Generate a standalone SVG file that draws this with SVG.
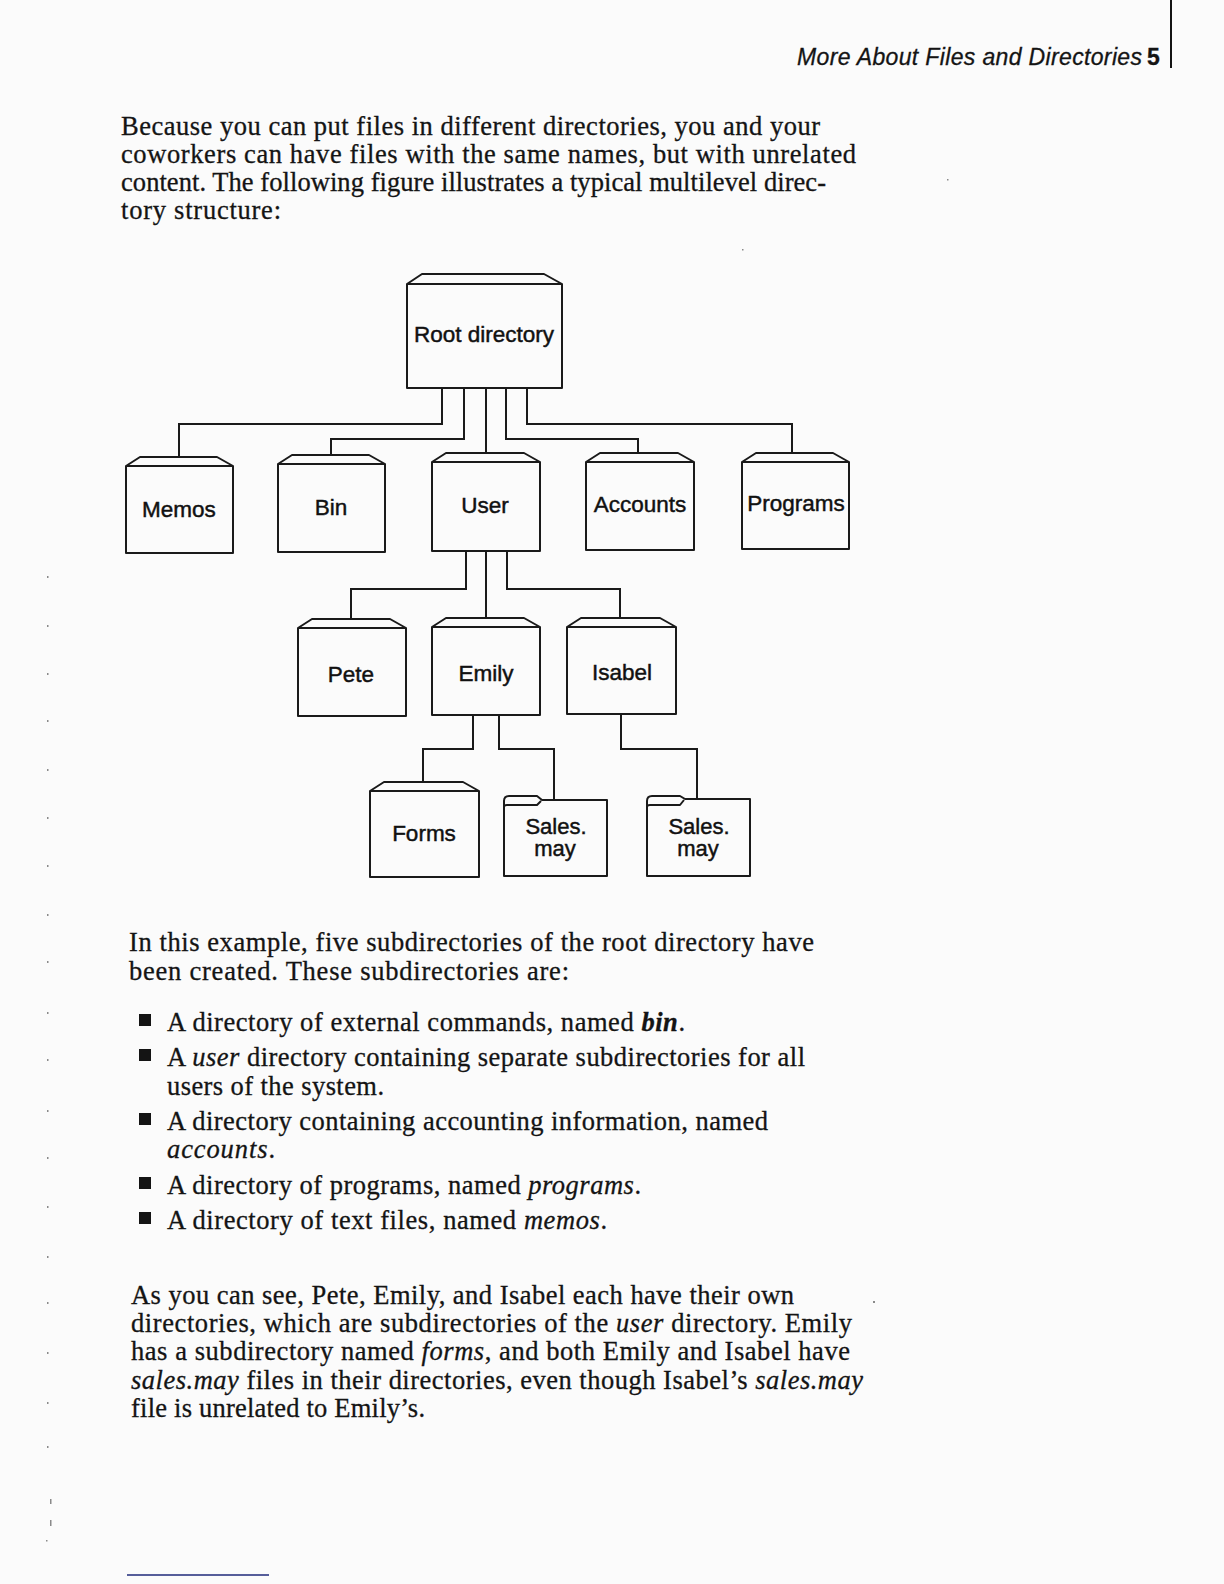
<svg xmlns="http://www.w3.org/2000/svg" width="1224" height="1584" viewBox="0 0 1224 1584">
<style>
.box{fill:none;stroke:#1a1a1a;stroke-width:2;stroke-linejoin:round}
.conn path{fill:none;stroke:#1a1a1a;stroke-width:2}
.lbl{font-family:"Liberation Sans",Arial,sans-serif;font-size:22.5px;fill:#111;stroke:#111;stroke-width:0.45;text-anchor:middle}
.lbl2{font-family:"Liberation Sans",Arial,sans-serif;font-size:22px;fill:#111;stroke:#111;stroke-width:0.45;text-anchor:middle}
.body{font-family:"Liberation Serif","Times New Roman",serif;font-size:26.5px;fill:#141414;stroke:#141414;stroke-width:0.3}
.it{font-style:italic}
.hdr{font-family:"Liberation Sans",Arial,sans-serif;font-size:23px;fill:#141414;stroke:#141414;stroke-width:0.3}
.speck{fill:#8a8a8a}
</style>
<rect width="1224" height="1584" fill="#fbfbfb"/>

<!-- header -->
<g id="header">
<text class="hdr" x="797" y="65" font-style="italic" textLength="345" lengthAdjust="spacing">More About Files and Directories</text>
<text class="hdr" x="1147" y="65" font-weight="bold">5</text>
<line x1="1171" y1="0" x2="1171" y2="68" stroke="#141414" stroke-width="2"/>
</g>

<!-- intro paragraph -->
<g id="intro">
<text class="body" x="121" y="135" textLength="699">Because you can put files in different directories, you and your</text>
<text class="body" x="121" y="163" textLength="735">coworkers can have files with the same names, but with unrelated</text>
<text class="body" x="121" y="191" textLength="705">content. The following figure illustrates a typical multilevel direc-</text>
<text class="body" x="121" y="219" textLength="160">tory structure:</text>
</g>

<!-- connectors -->
<g id="connectors" class="conn">
<path d="M442,388 V424 H179 V457"/>
<path d="M464,388 V439 H331 V455"/>
<path d="M486,388 V453"/>
<path d="M506,388 V439 H638 V453"/>
<path d="M527,388 V424 H792 V453"/>
<path d="M466,551 V589 H351 V619"/>
<path d="M486,551 V618"/>
<path d="M507,551 V589 H620 V618"/>
<path d="M473,715 V749 H423 V782"/>
<path d="M499,715 V749 H554 V800"/>
<path d="M621,714 V749 H697 V799"/>
</g>

<!-- nodes -->
<g id="root">
<path class="box" d="M407,284 H562 V388 H407 Z M407,284 L422,274 H544 L562,284"/>
<text class="lbl" x="484" y="342">Root directory</text>
</g>
<g id="memos">
<path class="box" d="M126,466 H233 V553 H126 Z M126,466 L140,457 H217 L233,466"/>
<text class="lbl" x="179" y="517">Memos</text>
</g>
<g id="bin">
<path class="box" d="M278,464 H385 V552 H278 Z M278,464 L292,455 H369 L385,464"/>
<text class="lbl" x="331" y="515">Bin</text>
</g>
<g id="user">
<path class="box" d="M432,462 H540 V551 H432 Z M432,462 L446,453 H524 L540,462"/>
<text class="lbl" x="485" y="513">User</text>
</g>
<g id="accounts">
<path class="box" d="M586,462 H694 V550 H586 Z M586,462 L600,453 H678 L694,462"/>
<text class="lbl" x="640" y="512">Accounts</text>
</g>
<g id="programs">
<path class="box" d="M742,462 H849 V549 H742 Z M742,462 L756,453 H833 L849,462"/>
<text class="lbl" x="796" y="511">Programs</text>
</g>
<g id="pete">
<path class="box" d="M298,628 H406 V716 H298 Z M298,628 L312,619 H390 L406,628"/>
<text class="lbl" x="351" y="682">Pete</text>
</g>
<g id="emily">
<path class="box" d="M432,627 H540 V715 H432 Z M432,627 L446,618 H524 L540,627"/>
<text class="lbl" x="486" y="681">Emily</text>
</g>
<g id="isabel">
<path class="box" d="M567,627 H676 V714 H567 Z M567,627 L581,618 H660 L676,627"/>
<text class="lbl" x="622" y="680">Isabel</text>
</g>
<g id="forms">
<path class="box" d="M370,791 H479 V877 H370 Z M370,791 L384,782 H463 L479,791"/>
<text class="lbl" x="424" y="841">Forms</text>
</g>
<g id="sales-emily">
<path class="box" d="M504,876 V801 Q504,796 509,796 H537 L542,800 H607 V876 Z M504,807 Q504,805 507,805 H537 L541,801"/>
<text class="lbl2" x="556" y="834">Sales.</text>
<text class="lbl2" x="555" y="856">may</text>
</g>
<g id="sales-isabel">
<path class="box" d="M647,876 V801 Q647,796 652,796 H680 L685,799 H750 V876 Z M647,807 Q647,805 650,805 H680 L684,800"/>
<text class="lbl2" x="699" y="834">Sales.</text>
<text class="lbl2" x="698" y="856">may</text>
</g>

<!-- following text -->
<g id="para2">
<text class="body" x="129" y="951" textLength="685">In this example, five subdirectories of the root directory have</text>
<text class="body" x="129" y="980" textLength="440">been created. These subdirectories are:</text>
</g>
<g id="bullets">
<rect x="139" y="1014" width="12" height="12" fill="#141414"/>
<text class="body" x="167" y="1031" textLength="518">A directory of external commands, named <tspan class="it" font-weight="bold">bin</tspan>.</text>
<rect x="139" y="1049" width="12" height="12" fill="#141414"/>
<text class="body" x="167" y="1066" textLength="638">A <tspan class="it">user</tspan> directory containing separate subdirectories for all</text>
<text class="body" x="167" y="1095" textLength="217">users of the system.</text>
<rect x="139" y="1113" width="12" height="12" fill="#141414"/>
<text class="body" x="167" y="1130" textLength="601">A directory containing accounting information, named</text>
<text class="body" x="167" y="1158" textLength="108"><tspan class="it">accounts</tspan>.</text>
<rect x="139" y="1177" width="12" height="12" fill="#141414"/>
<text class="body" x="167" y="1194" textLength="474">A directory of programs, named <tspan class="it">programs</tspan>.</text>
<rect x="139" y="1212" width="12" height="12" fill="#141414"/>
<text class="body" x="167" y="1229" textLength="440">A directory of text files, named <tspan class="it">memos</tspan>.</text>
</g>
<g id="para3">
<text class="body" x="131" y="1304" textLength="663">As you can see, Pete, Emily, and Isabel each have their own</text>
<text class="body" x="131" y="1332" textLength="721">directories, which are subdirectories of the <tspan class="it">user</tspan> directory. Emily</text>
<text class="body" x="131" y="1360" textLength="719">has a subdirectory named <tspan class="it">forms</tspan>, and both Emily and Isabel have</text>
<text class="body" x="131" y="1389" textLength="732"><tspan class="it">sales.may</tspan> files in their directories, even though Isabel’s <tspan class="it">sales.may</tspan></text>
<text class="body" x="131" y="1417" textLength="294">file is unrelated to Emily’s.</text>
</g>

<!-- scan marks -->
<g id="marks">
<rect class="speck" x="873" y="1301" width="2" height="2"/>
<rect class="speck" x="742" y="249" width="1.5" height="1.5"/>
<rect class="speck" x="947" y="179" width="1.5" height="1.5"/>
<rect class="speck" x="47" y="576" width="1.5" height="2"/>
<rect class="speck" x="47" y="625" width="1.5" height="2"/>
<rect class="speck" x="47" y="673" width="1.5" height="2"/>
<rect class="speck" x="47" y="720" width="1.5" height="2"/>
<rect class="speck" x="47" y="769" width="1.5" height="2"/>
<rect class="speck" x="47" y="817" width="1.5" height="2"/>
<rect class="speck" x="47" y="865" width="1.5" height="2"/>
<rect class="speck" x="47" y="914" width="1.5" height="2"/>
<rect class="speck" x="47" y="961" width="1.5" height="2"/>
<rect class="speck" x="47" y="1012" width="1.5" height="2"/>
<rect class="speck" x="47" y="1059" width="1.5" height="2"/>
<rect class="speck" x="47" y="1110" width="1.5" height="2"/>
<rect class="speck" x="47" y="1157" width="1.5" height="2"/>
<rect class="speck" x="47" y="1206" width="1.5" height="2"/>
<rect class="speck" x="47" y="1256" width="1.5" height="2"/>
<rect class="speck" x="47" y="1302" width="1.5" height="2"/>
<rect class="speck" x="47" y="1352" width="1.5" height="2"/>
<rect class="speck" x="47" y="1402" width="1.5" height="2"/>
<rect class="speck" x="47" y="1446" width="1.5" height="2"/>
<rect class="speck" x="50" y="1499" width="1.5" height="5"/>
<rect class="speck" x="50" y="1520" width="1.5" height="6"/>
<rect class="speck" x="46" y="1540" width="1.5" height="1.5"/>
<line x1="127" y1="1575" x2="269" y2="1575" stroke="#1f2a7a" stroke-width="1.5"/>
</g>
</svg>
